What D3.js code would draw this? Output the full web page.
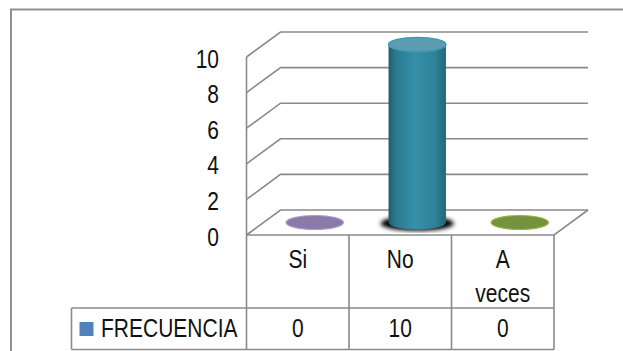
<!DOCTYPE html>
<html>
<head>
<meta charset="utf-8">
<script src="https://cdn.jsdelivr.net/npm/d3@7"></script>
<style>
  body { margin: 0; background: #fff; }
  text { font-family: "Liberation Sans", Arial, sans-serif; fill: #111; }
</style>
</head>
<body>
<div id="chart"></div>
<script>
const categories = ["Si", "No", "A veces"];
const labelLines = [["Si"], ["No"], ["A", "veces"]];
const values = [0, 10, 0];
const seriesName = "FRECUENCIA";
const yTicks = [0, 2, 4, 6, 8, 10];
const pointColors = ["#8b7aa8", "#31859c", "#76923c"];
const legendColor = "#4f81bd";

const W = 623, H = 351;
const depth = { dx: 34, dy: -25 };
const gridColor = "#8a8a8a";
const fontSize = 25, narrow = 0.84;

const svg = d3.select("#chart").append("svg")
    .attr("width", W)
    .attr("height", H);

// condensed text: no narrow font installed, so squeeze horizontally
function label(g, tx, ty, str, anchor) {
    return g.append("text")
        .attr("transform", `translate(${tx},${ty}) scale(${narrow},1)`)
        .attr("text-anchor", anchor || "start")
        .attr("font-size", fontSize)
        .text(str);
}

const defs = svg.append("defs");
const grad = defs.append("linearGradient").attr("id", "cyl").attr("x1", 0).attr("x2", 1).attr("y1", 0).attr("y2", 0);
[[0, "#1f5b6b"], [0.12, "#2c7a8f"], [0.45, "#3490a8"], [0.8, "#2f8399"], [1, "#236777"]]
    .forEach(s => grad.append("stop").attr("offset", s[0]).attr("stop-color", s[1]));
defs.append("filter").attr("id", "blur").append("feGaussianBlur").attr("stdDeviation", 2);

// outer frame
svg.append("path")
    .attr("d", `M11,${H} L11,9.5 L${W},9.5`)
    .attr("fill", "none").attr("stroke", "#909090").attr("stroke-width", 2);

const x = d3.scaleBand().domain(categories).range([246.5, 554]);
const y = d3.scaleLinear().domain([0, 10]).range([235, 57]);
const x0 = x.range()[0], x1 = x.range()[1];

// walls + gridlines
const grid = svg.append("g").attr("fill", "none").attr("stroke", gridColor).attr("stroke-width", 1.6);
yTicks.forEach(t => {
    grid.append("path")
        .attr("d", `M${x0},${y(t)} L${x0 + depth.dx},${y(t) + depth.dy} L${x1 + depth.dx},${y(t) + depth.dy}`);
});
grid.append("line").attr("x1", x0).attr("x2", x0).attr("y1", y(10)).attr("y2", y(0));
// floor
grid.append("path")
    .attr("d", `M${x0},${y(0)} L${x1},${y(0)} L${x1 + depth.dx},${y(0) + depth.dy}`);

// y tick labels
const yLab = svg.append("g");
yTicks.forEach(t => label(yLab, 219, y(t) + 10.5, t, "end"));

// cylinders
const rx = x.bandwidth() * 0.28;
const ry = 7;
const bars = svg.append("g");
categories.forEach((c, i) => {
    const cx = x(c) + x.bandwidth() / 2 + depth.dx / 2;
    const yb = y(0) + depth.dy / 2;
    const yt = y(values[i]) + depth.dy / 2;
    if (values[i] > 0) {
        bars.append("ellipse")
            .attr("cx", cx).attr("cy", yb + 1)
            .attr("rx", rx * 1.28).attr("ry", ry * 1.05)
            .attr("fill", "#000").attr("filter", "url(#blur)");
        bars.append("path")
            .attr("d", `M${cx - rx},${yt} L${cx - rx},${yb} A${rx},${ry} 0 0 0 ${cx + rx},${yb} L${cx + rx},${yt} Z`)
            .attr("fill", "url(#cyl)");
        bars.append("ellipse")
            .attr("cx", cx).attr("cy", yt)
            .attr("rx", rx).attr("ry", ry)
            .attr("fill", "#5e9db1").attr("stroke", "#3f9ab2").attr("stroke-width", 1.5);
    } else {
        bars.append("ellipse")
            .attr("cx", cx).attr("cy", yt)
            .attr("rx", rx).attr("ry", ry)
            .attr("fill", pointColors[i])
            .attr("stroke", d3.color(pointColors[i]).brighter(0.6)).attr("stroke-width", 1.2);
    }
});

// data table
const rowTop = y(0), rowMid = 308, rowBot = 349.5, legLeft = 71.5;
const tbl = svg.append("g").attr("stroke", gridColor).attr("stroke-width", 1.6);
tbl.append("line").attr("x1", legLeft).attr("x2", x1).attr("y1", rowMid).attr("y2", rowMid);
tbl.append("line").attr("x1", legLeft).attr("x2", x1).attr("y1", rowBot).attr("y2", rowBot);
tbl.append("line").attr("x1", legLeft).attr("x2", legLeft).attr("y1", rowMid).attr("y2", rowBot);
categories.concat(["end"]).forEach((c, i) => {
    const xx = i < categories.length ? x(c) : x1;
    tbl.append("line").attr("x1", xx).attr("x2", xx).attr("y1", rowTop).attr("y2", rowBot);
});

const head = svg.append("g");
categories.forEach((c, i) => {
    const cx = x(c) + x.bandwidth() / 2;
    labelLines[i].forEach((ln, j) => label(head, cx, 268 + j * 34, ln, "middle"));
    label(head, cx, 337, values[i], "middle");
});

svg.append("rect")
    .attr("x", 79.5).attr("y", 322).attr("width", 14).attr("height", 14)
    .attr("fill", legendColor);
label(svg, 101, 337, seriesName);
</script>
</body>
</html>
